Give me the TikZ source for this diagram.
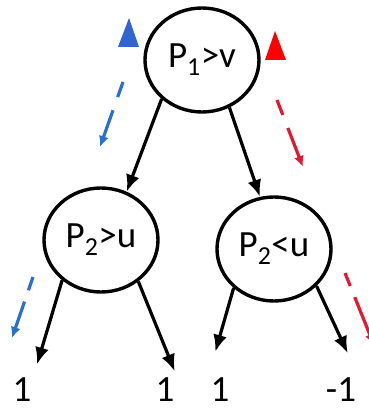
\documentclass[tikz,border=0pt]{standalone}
\usepackage{fontspec}
\setmainfont{Carlito}
\usetikzlibrary{arrows.meta, shapes.geometric}
\definecolor{hintblue}{RGB}{40,112,205}
\definecolor{hintred}{RGB}{228,24,48}
\definecolor{markblue}{RGB}{48,100,210}
\definecolor{markred}{RGB}{255,0,0}
\tikzset{
  test/.style={ellipse, draw, line width=3.4pt, minimum width=114pt, minimum height=104pt, inner sep=0pt},
  leaf/.style={inner sep=2pt},
  branch/.style={-{Latex[length=17pt,width=14pt]}, line width=3.2pt},
  hint/.style={line width=3.2pt, dash pattern=on 16pt off 14pt on 80pt off 1pt, -{Latex[length=11pt,width=10pt]}}
}

\begin{document}
\begin{tikzpicture}[x=1pt, y=-1pt, font=\fontsize{37}{40}\selectfont]
  \useasboundingbox (0,0) rectangle (368,409);

  % the tests
  \node[test] (root) at (202,60) {P\textsubscript{1}>v};
  \node[test] (left) at (101,240) {P\textsubscript{2}>u};
  \node[test] (right) at (274,249) {P\textsubscript{2}<u};

  % the leaves
  \node[leaf] (l1) at (22,390) {1};
  \node[leaf] (l2) at (165,390) {1};
  \node[leaf] (l3) at (220,390) {1};
  \node[leaf] (l4) at (341,390) {-1};

  % branches
  \draw[branch] (root.224) -- (left.62);
  \draw[branch] (root.300) -- (right.105);
  \draw[branch, shorten >=12pt] (left.226) -- (l1.north east);
  \draw[branch, shorten >=5pt] (left.312) -- (l2.north east);
  \draw[branch, shorten >=25pt] (right.224) -- (l3.north west);
  \draw[branch, shorten >=25pt] (right.319) -- (l4.north east);

  % markers
  \fill[markblue] (129,18) -- (139,47) -- (118,47) -- cycle;
  \fill[markred] (275,31) -- (286,60) -- (265,60) -- cycle;

  % dashed hints
  \coordinate (b1) at (123,82);  \coordinate (b2) at (100,147);
  \coordinate (r1) at (277,100); \coordinate (r2) at (303,167);
  \coordinate (b3) at (33,277);  \coordinate (b4) at (12,338);
  \coordinate (r3) at (345,273); \coordinate (r4) at (374,345);
  \draw[hint, hintblue] (b1) -- (b2);
  \draw[hint, hintred] (r1) -- (r2);
  \draw[hint, hintblue, dash pattern=on 14pt off 12pt on 80pt off 1pt] (b3) -- (b4);
  \draw[hint, hintred, dash pattern=on 14pt off 12pt on 80pt off 1pt] (r3) -- (r4);
\end{tikzpicture}
\end{document}
